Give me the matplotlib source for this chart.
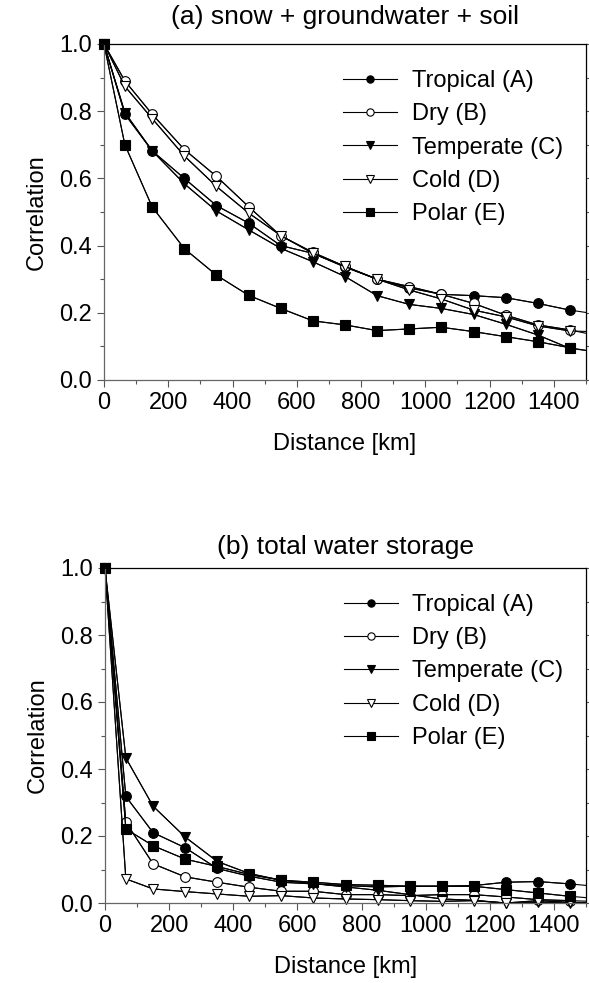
import numpy as np
import matplotlib
matplotlib.use('Agg')
import matplotlib.pyplot as plt
from matplotlib.ticker import MultipleLocator

plt.rcParams['font.family'] = ['Liberation Sans', 'DejaVu Sans']

# distance bins [km]; last one lies past the axis edge and only shows as a clipped segment
distance = [0, 65, 150, 250, 350, 450, 550, 650, 750, 850, 950, 1050, 1150, 1250, 1350, 1450, 1550]

names = ['Tropical (A)', 'Dry (B)', 'Temperate (C)', 'Cold (D)', 'Polar (E)']

# (a) snow + groundwater + soil
tropical_a = [1.0, 0.791, 0.682, 0.600, 0.519, 0.467, 0.400, 0.377, 0.336, 0.300, 0.274, 0.255, 0.251, 0.245, 0.228, 0.208, 0.194]
dry_a = [1.0, 0.890, 0.791, 0.686, 0.606, 0.516, 0.429, 0.380, 0.338, 0.300, 0.278, 0.255, 0.228, 0.193, 0.164, 0.149, 0.129]
temperate_a = [1.0, 0.796, 0.682, 0.584, 0.503, 0.447, 0.392, 0.352, 0.308, 0.251, 0.225, 0.213, 0.195, 0.166, 0.134, 0.094, 0.082]
cold_a = [1.0, 0.874, 0.778, 0.667, 0.576, 0.497, 0.430, 0.377, 0.338, 0.300, 0.268, 0.241, 0.208, 0.188, 0.161, 0.146, 0.143]
polar_a = [1.0, 0.700, 0.515, 0.391, 0.312, 0.252, 0.213, 0.176, 0.164, 0.147, 0.152, 0.157, 0.144, 0.129, 0.114, 0.096, 0.080]

# (b) total water storage
tropical_b = [1.0, 0.318, 0.210, 0.165, 0.103, 0.080, 0.062, 0.057, 0.052, 0.048, 0.050, 0.050, 0.052, 0.062, 0.064, 0.057, 0.048]
dry_b = [1.0, 0.241, 0.117, 0.078, 0.062, 0.047, 0.035, 0.035, 0.025, 0.025, 0.022, 0.025, 0.025, 0.018, 0.010, 0.007, 0.004]
temperate_b = [1.0, 0.433, 0.289, 0.197, 0.124, 0.088, 0.068, 0.058, 0.048, 0.038, 0.025, 0.012, 0.008, 0.000, 0.002, 0.000, 0.000]
cold_b = [1.0, 0.072, 0.042, 0.034, 0.027, 0.020, 0.022, 0.015, 0.012, 0.010, 0.007, 0.005, 0.007, 0.000, 0.007, 0.002, 0.001]
polar_b = [1.0, 0.221, 0.171, 0.131, 0.109, 0.085, 0.068, 0.062, 0.055, 0.053, 0.050, 0.050, 0.050, 0.040, 0.030, 0.020, 0.012]

panels = [
    ('(a) snow + groundwater + soil', [tropical_a, dry_a, temperate_a, cold_a, polar_a]),
    ('(b) total water storage', [tropical_b, dry_b, temperate_b, cold_b, polar_b]),
]

# marker, facecolor for each series
styles = [('o', 'black'), ('o', 'white'), ('v', 'black'), ('v', 'white'), ('s', 'black')]

fs = 17
W, H = 589, 983
fig = plt.figure(figsize=(W / 100, H / 100), dpi=100)

# axes boxes in pixels: left, top, right, bottom ; title centre y
boxes = [(104, 44, 586, 380, 17), (105, 568, 586, 903, 547)]

x = np.array(distance)
for (title, series), (l, t, r, b, ty) in zip(panels, boxes):
    ax = fig.add_axes([l / W, 1 - b / H, (r - l) / W, (b - t) / H])
    inside = x <= 1500
    for name, y, (mk, fc) in zip(names, series, styles):
        y = np.array(y)
        ax.plot(x, y, color='black', lw=0.8)
        ax.plot(x[inside], y[inside], color='black', lw=0.8, marker=mk, ms=7,
                mfc=fc, mec='black', mew=0.8, clip_on=False, label=name)
    ax.set_xlim(0, 1500)
    ax.set_ylim(0, 1.0)
    ax.xaxis.set_major_locator(MultipleLocator(200))
    ax.xaxis.set_minor_locator(MultipleLocator(100))
    ax.yaxis.set_major_locator(MultipleLocator(0.2))
    ax.yaxis.set_minor_locator(MultipleLocator(0.1))
    ax.yaxis.set_major_formatter(plt.FormatStrFormatter('%.1f'))
    ax.tick_params(which='both', direction='out', labelsize=fs,
                   color='#555555', width=0.8)
    ax.tick_params(which='major', length=5)
    ax.tick_params(which='minor', length=3)
    ax.tick_params(axis='y', which='both', right=True, labelright=False)
    for side in ['left', 'bottom']:
        ax.spines[side].set_color('#666666')
    for side in ['top', 'right']:
        ax.spines[side].set_color('black')
    for s in ax.spines.values():
        s.set_linewidth(0.9)
    fig.text((l + r) / 2 / W, 1 - ty / H, title, fontsize=19, ha='center', va='center')
    ax.set_xlabel('Distance [km]', fontsize=fs, labelpad=14)
    ax.set_ylabel('Correlation', fontsize=fs, labelpad=8)
    ax.legend(loc='upper left', bbox_to_anchor=(0.496, 0.923), frameon=False,
              fontsize=fs, handlelength=2.3, handletextpad=0.6, labelspacing=0.48,
              borderaxespad=0, borderpad=0, markerscale=0.75)

fig.savefig('out.png', dpi=100)
